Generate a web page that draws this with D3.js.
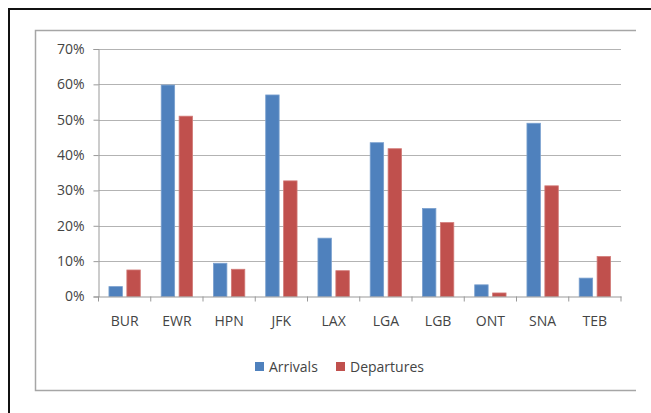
<!DOCTYPE html>
<html>
<head>
<meta charset="utf-8">
<script src="https://cdn.jsdelivr.net/npm/d3@7"></script>
<style>
  body { margin: 0; background: #fff; }
  svg { display: block; }
</style>
</head>
<body>
<div id="chart"></div>
<script>
const airports = ['BUR', 'EWR', 'HPN', 'JFK', 'LAX', 'LGA', 'LGB', 'ONT', 'SNA', 'TEB'];
const arrivals = [0.028, 0.598, 0.094, 0.570, 0.165, 0.435, 0.249, 0.033, 0.490, 0.052];
const departures = [0.075, 0.510, 0.077, 0.327, 0.073, 0.418, 0.209, 0.010, 0.313, 0.113];
const seriesNames = ['Arrivals', 'Departures'];
const yTicks = [0, 0.1, 0.2, 0.3, 0.4, 0.5, 0.6, 0.7];

const svgWidth = 651;
const svgHeight = 413;
const colors = { Arrivals: '#4F81BD', Departures: '#C0504D' };
const edge = { Arrivals: '#7aa0cf', Departures: '#d27a77' };
const textColor = '#444';
const font = '"Open Sans", sans-serif';
const fontSize = '14px';

const plot = { left: 98.5, right: 621, top: 49, bottom: 296.5 };

const svg = d3.select('#chart').append('svg')
  .attr('width', svgWidth)
  .attr('height', svgHeight);

// outer black frame (runs off the right and bottom)
svg.append('path')
  .attr('d', `M9,${svgHeight + 5} V9 H${svgWidth + 5}`)
  .attr('fill', 'none')
  .attr('stroke', '#111')
  .attr('stroke-width', 2);

// inner chart area border
svg.append('path')
  .attr('d', 'M636,30.5 H35.5 V390.5 H636')
  .attr('fill', 'none')
  .attr('stroke', '#a6a6a6')
  .attr('stroke-width', 1.5);

const data = airports.map((a, i) => ({ airport: a, Arrivals: arrivals[i], Departures: departures[i] }));

const x0 = d3.scaleBand()
  .domain(airports)
  .range([plot.left, plot.right])
  .padding(0);

const x1 = d3.scaleBand()
  .domain(seriesNames)
  .range([x0.bandwidth() * 0.2, x0.bandwidth() * 0.8])
  .paddingInner(0.25);

const y = d3.scaleLinear()
  .domain([0, 0.7])
  .range([plot.bottom, plot.top]);

// gridlines
svg.append('g')
  .selectAll('line')
  .data(yTicks.filter(t => t > 0))
  .join('line')
  .attr('x1', plot.left)
  .attr('x2', plot.right)
  .attr('y1', d => Math.round(y(d)) + 0.5)
  .attr('y2', d => Math.round(y(d)) + 0.5)
  .attr('stroke', '#b3b3b3')
  .attr('stroke-width', 1.2);

// bars
const groups = svg.append('g')
  .selectAll('g')
  .data(data)
  .join('g')
  .attr('transform', d => `translate(${x0(d.airport)},0)`);

groups.selectAll('rect')
  .data(d => seriesNames.map(s => ({ key: s, value: d[s] })))
  .join('rect')
  .attr('x', d => x1(d.key))
  .attr('y', d => y(d.value))
  .attr('width', x1.bandwidth())
  .attr('height', d => y(0) - y(d.value))
  .attr('fill', d => colors[d.key])
  .attr('stroke', d => edge[d.key])
  .attr('stroke-width', 0.8);

// y axis
const yAxis = svg.append('g')
  .attr('transform', `translate(${plot.left},0)`)
  .call(d3.axisLeft(y).tickValues(yTicks).tickFormat(d3.format('.0%')).tickSize(5).tickPadding(9));
yAxis.select('.domain').attr('stroke', '#999');
yAxis.selectAll('.tick line').attr('stroke', '#999');
yAxis.selectAll('text')
  .attr('fill', textColor)
  .style('font-family', font)
  .style('font-size', fontSize);

// x axis
const xAxis = svg.append('g')
  .attr('transform', `translate(0,${plot.bottom})`)
  .call(d3.axisBottom(x0).tickSize(0).tickPadding(20));
xAxis.select('.domain').attr('stroke', '#999');
xAxis.selectAll('text')
  .attr('fill', textColor)
  .style('font-family', font)
  .style('font-size', fontSize);

// boundary ticks between categories
svg.append('g')
  .selectAll('line')
  .data(airports.concat(['end']))
  .join('line')
  .attr('x1', (d, i) => i < airports.length ? x0(d) : plot.right)
  .attr('x2', (d, i) => i < airports.length ? x0(d) : plot.right)
  .attr('y1', plot.bottom)
  .attr('y2', plot.bottom + 5)
  .attr('stroke', '#999');

// legend
const legend = svg.append('g').attr('transform', 'translate(255,362)');
const legendX = [0, 81];
seriesNames.forEach((s, i) => {
  const item = legend.append('g').attr('transform', `translate(${legendX[i]},0)`);
  item.append('rect')
    .attr('width', 9)
    .attr('height', 9)
    .attr('fill', colors[s]);
  item.append('text')
    .attr('x', 14)
    .attr('y', 9.5)
    .attr('fill', textColor)
    .style('font-family', font)
    .style('font-size', fontSize)
    .text(s);
});
</script>
</body>
</html>
